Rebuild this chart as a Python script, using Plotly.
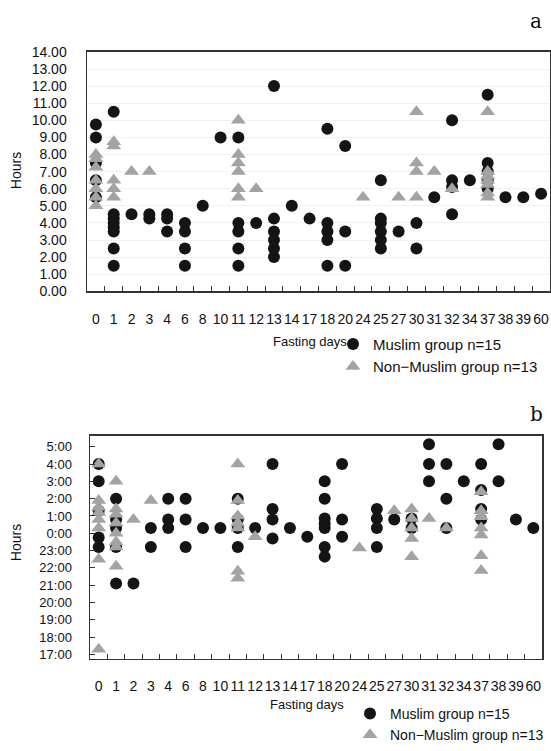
import plotly.graph_objects as go

W, H = 551, 751

categories = ["0", "1", "2", "3", "4", "6", "8", "10", "11", "12", "13", "14", "17",
              "18", "20", "24", "25", "27", "30", "31", "32", "34", "37", "38", "39", "60"]

# ---------- Panel a : hours ----------
a_muslim_day = (["0"] * 5 + ["1"] * 8 + ["2"] + ["3"] * 2 + ["4"] * 3 + ["6"] * 4 + ["8"] + ["10"]
                + ["11"] * 5 + ["12"] + ["13"] * 6 + ["14"] + ["17"] + ["18"] * 5 + ["20"] * 3
                + ["25"] * 6 + ["27"] + ["30"] * 2 + ["31"] + ["32"] * 4 + ["34"] + ["37"] * 5
                + ["38"] + ["39"] + ["60"])
a_muslim_hours = ([9.75, 9.0, 7.5, 6.5, 5.5]
                  + [10.5, 4.5, 4.25, 4.0, 3.75, 3.5, 2.5, 1.5]
                  + [4.5]
                  + [4.5, 4.25]
                  + [4.5, 4.25, 3.5]
                  + [4.0, 3.5, 2.5, 1.5]
                  + [5.0]
                  + [9.0]
                  + [9.0, 4.0, 3.5, 2.5, 1.5]
                  + [4.0]
                  + [12.0, 4.25, 3.5, 3.0, 2.5, 2.0]
                  + [5.0]
                  + [4.25]
                  + [9.5, 4.0, 3.5, 3.0, 1.5]
                  + [8.5, 3.5, 1.5]
                  + [6.5, 4.25, 4.0, 3.5, 3.0, 2.5]
                  + [3.5]
                  + [4.0, 2.5]
                  + [5.5]
                  + [10.0, 6.5, 6.1, 4.5]
                  + [6.5]
                  + [11.5, 7.5, 7.0, 6.5, 6.0]
                  + [5.5]
                  + [5.5]
                  + [5.7])

a_non_day = (["0"] * 7 + ["1"] * 5 + ["2"] + ["3"] + ["11"] * 6 + ["12"] + ["24"] + ["27"]
             + ["30"] * 4 + ["31"] + ["32"] + ["37"] * 7)
a_non_hours = ([8.0, 7.75, 7.25, 6.5, 6.0, 5.5, 5.0]
               + [8.75, 8.5, 6.5, 6.0, 5.5]
               + [7.0]
               + [7.0]
               + [10.0, 8.0, 7.5, 7.0, 6.0, 5.5]
               + [6.0]
               + [5.5]
               + [5.5]
               + [10.5, 7.5, 7.0, 5.5]
               + [7.0]
               + [6.0]
               + [10.5, 7.0, 6.75, 6.5, 6.25, 5.75, 5.5])

a_tickvals = list(range(0, 15))
a_ticktext = ["%.2f" % v for v in a_tickvals]

# ---------- Panel b : clock time (0:00 = 24) ----------
b_muslim_day = (["0"] * 5 + ["1"] * 5 + ["2"] + ["3"] * 2 + ["4"] * 3 + ["6"] * 3 + ["8"] + ["10"]
                + ["11"] * 4 + ["12"] + ["13"] * 4 + ["14"] + ["17"] + ["18"] * 7 + ["20"] * 3
                + ["25"] * 4 + ["27"] + ["30"] * 2 + ["31"] * 3 + ["32"] * 3 + ["34"]
                + ["37"] * 4 + ["38"] * 2 + ["39"] + ["60"])
b_muslim_time = ([28.0, 27.0, 25.3, 23.75, 23.2]
                 + [26.0, 24.8, 24.3, 23.2, 21.1]
                 + [21.1]
                 + [24.3, 23.2]
                 + [26.0, 24.8, 24.3]
                 + [26.0, 24.8, 23.2]
                 + [24.3]
                 + [24.3]
                 + [26.0, 24.8, 24.3, 23.2]
                 + [24.3]
                 + [28.0, 25.4, 24.8, 23.7]
                 + [24.3]
                 + [23.8]
                 + [27.0, 26.0, 24.85, 24.55, 24.3, 23.2, 22.65]
                 + [28.0, 24.8, 23.8]
                 + [25.4, 24.85, 24.3, 23.2]
                 + [24.8]
                 + [24.85, 24.3]
                 + [29.15, 28.0, 27.0]
                 + [28.0, 26.0, 24.3]
                 + [27.0]
                 + [28.0, 26.5, 25.4, 24.8]
                 + [29.15, 27.0]
                 + [24.8]
                 + [24.3])

b_non_day = (["0"] * 8 + ["1"] * 8 + ["2"] + ["3"] + ["11"] * 7 + ["12"] + ["24"] + ["27"]
             + ["30"] * 5 + ["31"] + ["32"] + ["37"] * 7)
b_non_time = ([28.0, 25.9, 25.5, 25.2, 24.8, 24.3, 22.5, 17.3]
              + [27.0, 25.4, 25.1, 24.6, 24.0, 23.5, 23.2, 22.1]
              + [24.8]
              + [25.9]
              + [28.0, 25.9, 25.0, 24.6, 24.3, 21.8, 21.4]
              + [23.8]
              + [23.15]
              + [25.3]
              + [25.4, 24.85, 24.3, 23.7, 22.65]
              + [24.85]
              + [24.3]
              + [26.4, 25.3, 24.95, 24.3, 23.9, 22.7, 21.85])

b_tickvals = list(range(17, 30))
b_ticktext = ["%d:00" % (v % 24) for v in b_tickvals]

BLACK = "#141414"
GREY = "#a3a3a3"
FONT = "Liberation Sans, Arial, sans-serif"

fig = go.Figure()

fig.add_trace(go.Scatter(x=a_muslim_day, y=a_muslim_hours, mode="markers", name="Muslim group n=15",
                         marker=dict(symbol="circle", size=12, color=BLACK),
                         xaxis="x", yaxis="y", legend="legend", cliponaxis=False))
fig.add_trace(go.Scatter(x=a_non_day, y=a_non_hours, mode="markers", name="Non\u2212Muslim group n=13",
                         marker=dict(symbol="triangle-up", size=13, color=GREY),
                         xaxis="x", yaxis="y", legend="legend", cliponaxis=False))
fig.add_trace(go.Scatter(x=b_muslim_day, y=b_muslim_time, mode="markers", name="Muslim group n=15",
                         marker=dict(symbol="circle", size=12, color=BLACK),
                         xaxis="x2", yaxis="y2", legend="legend2", cliponaxis=False))
fig.add_trace(go.Scatter(x=b_non_day, y=b_non_time, mode="markers", name="Non\u2212Muslim group n=13",
                         marker=dict(symbol="triangle-up", size=13, color=GREY),
                         xaxis="x2", yaxis="y2", legend="legend2", cliponaxis=False))

def px_x(p):
    return p / W

def px_y(p):
    return 1 - p / H

common_x = dict(type="category", categoryorder="array", categoryarray=categories,
                range=[-0.5, len(categories) - 0.5], tickson="boundaries",
                ticks="inside", ticklen=5, tickcolor="#333", showline=True, mirror=True,
                linecolor="#333", linewidth=1.5, showgrid=False, zeroline=False,
                tickangle=0, automargin=False,
                tickfont=dict(family=FONT, size=14, color="#111"),
                ticklabelstandoff=14)

fig.update_layout(
    template="none",
    width=W, height=H, autosize=False,
    margin=dict(l=0, r=0, t=0, b=0, pad=0),
    paper_bgcolor="white", plot_bgcolor="white",
    font=dict(family=FONT, color="#111"),
    hovermode=False,
    xaxis=dict(common_x, domain=[px_x(87), px_x(550)], anchor="y"),
    yaxis=dict(domain=[px_y(303), px_y(54)], anchor="x", range=[0, 14],
               tickvals=a_tickvals, ticktext=a_ticktext, ticks="", automargin=False,
               showline=True, mirror=True, linecolor="#333", linewidth=1.5,
               showgrid=True, gridcolor="#f1f1f1", gridwidth=1, zeroline=False,
               tickfont=dict(family=FONT, size=14, color="#111"), ticklabelstandoff=16),
    xaxis2=dict(common_x, domain=[px_x(90), px_x(542)], anchor="y2"),
    yaxis2=dict(domain=[px_y(685), px_y(453)], anchor="x2", range=[16.76, 29.65],
                tickvals=b_tickvals, ticktext=b_ticktext, ticks="inside", ticklen=5,
                tickcolor="#333", showline=True, mirror=True, linecolor="#333", linewidth=1.5,
                showgrid=False, zeroline=False, automargin=False,
                tickfont=dict(family=FONT, size=13, color="#111"), ticklabelstandoff=14),
    legend=dict(x=px_x(333), y=px_y(341), xanchor="left", yanchor="top",
                bgcolor="rgba(0,0,0,0)", font=dict(family=FONT, size=15, color="#111"),
                itemwidth=30, tracegroupgap=0, borderwidth=0),
    legend2=dict(x=px_x(350), y=px_y(726), xanchor="left", yanchor="top",
                 bgcolor="rgba(0,0,0,0)", font=dict(family=FONT, size=14, color="#111"),
                 itemwidth=30, tracegroupgap=0, borderwidth=0),
    showlegend=True,
)

annotations = [
    dict(text="Hours", x=px_x(16), y=px_y(178), textangle=-90, font=dict(size=14)),
    dict(text="Fasting days", x=px_x(310), y=px_y(355), font=dict(size=13)),
    dict(text="a", x=px_x(536), y=px_y(22), font=dict(size=20, family="DejaVu Serif, serif")),
    dict(text="Hours", x=px_x(16), y=px_y(565), textangle=-90, font=dict(size=14)),
    dict(text="Fasting days", x=px_x(307), y=px_y(733), font=dict(size=13)),
    dict(text="b", x=px_x(536), y=px_y(431), font=dict(size=20, family="DejaVu Serif, serif")),
]
for a in annotations:
    a.update(xref="paper", yref="paper", showarrow=False, xanchor="center", yanchor="middle")
    a["font"].setdefault("family", FONT)
    a["font"].setdefault("color", "#111")
fig.update_layout(annotations=annotations)

# remove the default 8px body margin so the 551x751 figure fills the window exactly
fig.write_html("out.html",
               config={"displayModeBar": False, "staticPlot": True},
               post_script="document.body.style.margin='0px';document.body.style.overflow='hidden';")
